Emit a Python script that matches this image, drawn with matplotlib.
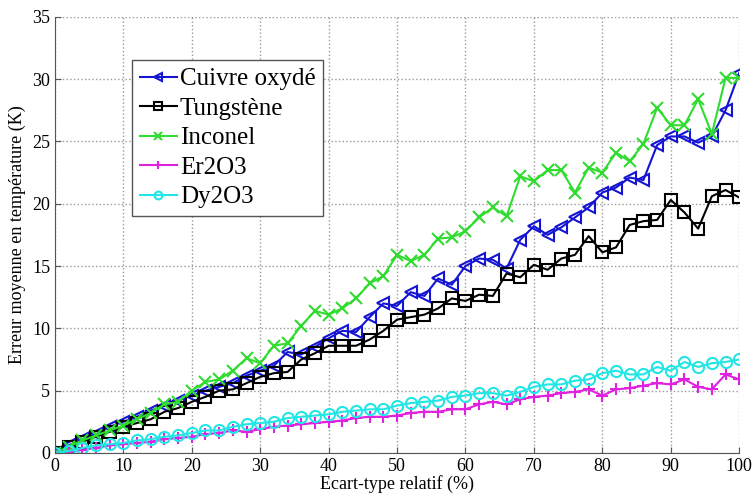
import numpy as np
import matplotlib
matplotlib.use("Agg")
import matplotlib.pyplot as plt

plt.rcParams['font.family'] = ['Liberation Serif', 'DejaVu Serif']

# Ecart-type relatif (%)
x = np.arange(0, 101, 2)

cuivre = [0, 0.6, 1.1, 1.5, 2.1, 2.5, 2.9, 3.4, 3.8, 4.2, 4.6, 5.0, 5.3, 5.6, 6.2, 6.6,
          7.0, 8.1, 7.9, 8.5, 9.2, 9.8, 9.7, 10.9, 12.0, 11.8, 12.9, 12.6, 14.0, 13.5,
          15.0, 15.6, 15.5, 14.8, 17.1, 18.2, 17.5, 18.1, 18.9, 19.7, 20.9, 21.3, 22.1,
          21.9, 24.7, 25.4, 25.4, 24.9, 25.4, 27.5, 30.5]
tungstene = [0, 0.5, 0.9, 1.3, 1.7, 2.1, 2.4, 2.7, 3.3, 3.6, 4.1, 4.5, 5.0, 5.1, 5.6, 6.1,
             6.4, 6.5, 7.5, 8.0, 8.6, 8.6, 8.6, 9.1, 9.8, 10.7, 10.9, 11.1, 11.6, 12.4,
             12.2, 12.7, 12.6, 14.4, 14.1, 15.1, 14.7, 15.6, 15.9, 17.4, 16.1, 16.5, 18.3,
             18.6, 18.7, 20.3, 19.3, 18.0, 20.6, 21.1, 20.5]
inconel = [0, 0.5, 1.0, 1.4, 1.8, 2.2, 2.7, 3.2, 3.9, 4.1, 5.0, 5.7, 5.9, 6.6, 7.6, 7.2,
           8.6, 8.8, 10.2, 11.4, 11.1, 11.6, 12.4, 13.6, 14.2, 15.9, 15.4, 15.9, 17.2,
           17.3, 17.8, 18.9, 19.7, 19.0, 22.2, 21.8, 22.7, 22.7, 20.9, 22.9, 22.5, 24.1,
           23.4, 24.8, 27.7, 26.3, 26.3, 28.4, 25.6, 30.1, 30.1]
er2o3 = [0, 0.1, 0.25, 0.4, 0.6, 0.7, 0.8, 0.9, 1.1, 1.2, 1.3, 1.5, 1.6, 1.8, 1.7, 1.9,
         2.1, 2.2, 2.3, 2.4, 2.5, 2.6, 2.8, 2.9, 2.9, 3.0, 3.2, 3.3, 3.3, 3.5, 3.5, 3.9,
         4.1, 3.9, 4.3, 4.5, 4.6, 4.8, 4.9, 5.1, 4.6, 5.1, 5.2, 5.4, 5.6, 5.5, 5.9, 5.3,
         5.1, 6.3, 5.9]
dy2o3 = [0, 0.15, 0.4, 0.6, 0.7, 0.8, 1.0, 1.1, 1.3, 1.4, 1.6, 1.8, 1.8, 2.1, 2.3, 2.4,
         2.5, 2.8, 2.9, 3.0, 3.1, 3.3, 3.4, 3.5, 3.5, 3.8, 4.0, 4.1, 4.2, 4.5, 4.6, 4.8,
         4.8, 4.6, 4.9, 5.3, 5.5, 5.5, 5.8, 5.9, 6.4, 6.6, 6.3, 6.3, 6.9, 6.6, 7.3, 6.9,
         7.2, 7.3, 7.5]

series = [
    ("Cuivre oxydé", cuivre, "#1414d2", "<"),
    ("Tungstène", tungstene, "black", "s"),
    ("Inconel", inconel, "#2fdc2f", "x"),
    ("Er2O3", er2o3, "#e022e0", "+"),
    ("Dy2O3", dy2o3, "#22e6e6", "o"),
]

fig = plt.figure(figsize=(7.52, 4.95), dpi=100)
ax = fig.add_axes([0.073, 0.085, 0.910, 0.881])

for name, vals, col, mk in series:
    ax.plot(x, vals, color=col, marker=mk, markersize=8, markerfacecolor="none",
            markeredgewidth=1.5, linewidth=1.5, label=name)

ax.set_xlim(0, 100)
ax.set_ylim(0, 35)
ax.set_xticks(np.arange(0, 101, 10))
ax.set_yticks(np.arange(0, 36, 5))
ax.grid(True, linestyle=":", color="#999999", linewidth=1)
ax.spines["top"].set_visible(False)
ax.spines["right"].set_visible(False)
ax.spines["left"].set_color("#555555")
ax.spines["bottom"].set_color("#555555")
ax.tick_params(labelsize=13, direction="in", length=4, colors="#555555", labelcolor="black")

ax.set_xlabel("Ecart-type relatif (%)", fontsize=13, labelpad=0)
ax.set_ylabel("Erreur moyenne en température (K)", fontsize=13, labelpad=4)

leg = ax.legend(loc="upper left", bbox_to_anchor=(0.113, 0.9), fontsize=18,
                handlelength=1.5, handletextpad=0.1, borderpad=0.3, labelspacing=0.28,
                markerscale=0.7, fancybox=False, framealpha=1, borderaxespad=0)
leg.get_frame().set_edgecolor("#555555")
leg.get_frame().set_linewidth(1)

fig.savefig("out.png", dpi=100)
